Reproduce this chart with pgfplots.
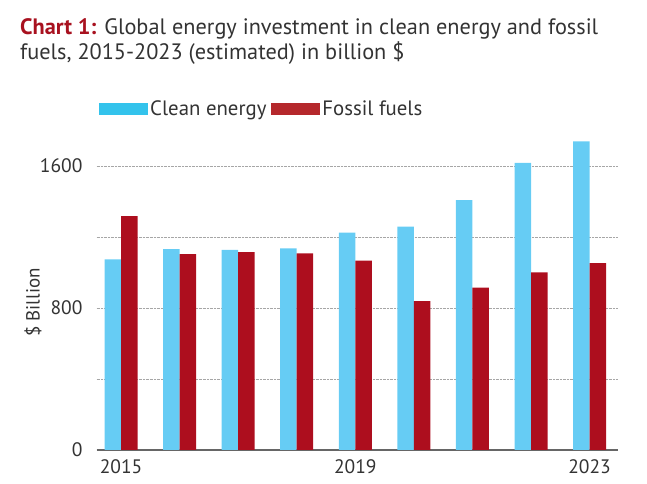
\documentclass[border=0pt]{standalone}
\usepackage{pgfplots}
\pgfplotsset{compat=1.18}
\usepackage{fontspec}
\setmainfont{PT Sans}
\definecolor{clean}{HTML}{66CCF4}
\definecolor{fossil}{HTML}{AD0E1E}
\definecolor{cleanleg}{HTML}{33C3EC}
\definecolor{fossilleg}{HTML}{B5282C}
\definecolor{titlered}{HTML}{A8111F}
\definecolor{txt}{HTML}{333333}
\definecolor{axgray}{HTML}{666666}
\begin{document}
\begin{tikzpicture}[x=1bp,y=1bp]
\path[use as bounding box] (0,0) rectangle (647,484);
\node[anchor=base west, inner sep=0, font=\fontsize{22.3bp}{25bp}\selectfont, text=txt] at (20,449.7) {\textcolor{titlered}{\bfseries Chart 1:} Global energy investment in clean energy and fossil};
\node[anchor=base west, inner sep=0, font=\fontsize{22.3bp}{25bp}\selectfont, text=txt] at (20,424) {fuels, 2015-2023 (estimated) in billion \$};
\node[rotate=90, inner sep=0, font=\fontsize{19bp}{20bp}\selectfont, text=txt] at (33,181.5) {\$ Billion};
\begin{axis}[
  at={(96.7bp,34bp)}, anchor=south west,
  scale only axis, width=521.6bp, height=316bp,
  xmin=2014.585, xmax=2023.49, ymin=0, ymax=1780,
  axis x line*=bottom, axis y line*=left,
  x axis line style={-, draw=axgray, line width=1.2bp},
  y axis line style={draw=none},
  major tick length=0pt,
  ymajorgrids, grid style={densely dotted, draw=gray!70, line width=0.6bp},
  ytick={0,400,800,1200,1600}, yticklabels={0,,800,,1600},
  xtick={2015,2019,2023}, xticklabels={2015,2019,2023},
  yticklabel style={inner sep=0pt, anchor=east, xshift=-14bp, text=txt, font=\fontsize{19.5bp}{20bp}\selectfont},
  xticklabel style={inner sep=0pt, anchor=north, yshift=-9bp, text=txt, font=\fontsize{19.5bp}{20bp}\selectfont},
  legend columns=2,
  legend style={at={(0.0045,1.079)}, anchor=west, draw=none, fill=none, inner sep=0pt,
    nodes={inner sep=2bp, text=txt, font=\fontsize{20.8bp}{22bp}\selectfont},
    /tikz/every even column/.append style={column sep=3bp}},
  legend cell align=left,
]
\addplot[ybar, bar width=16.5bp, bar shift=-8.25bp, fill=clean, draw=none,
  legend image code/.code={\fill[cleanleg] (0bp,-6.2bp) rectangle (49bp,6.2bp);}]
  coordinates {(2015,1074) (2016,1131) (2017,1127) (2018,1136) (2019,1224) (2020,1258) (2021,1408) (2022,1617) (2023,1739)};
\addlegendentry{Clean energy}
\addplot[ybar, bar width=16.5bp, bar shift=8.25bp, fill=fossil, draw=none,
  legend image code/.code={\fill[fossilleg] (0bp,-6.2bp) rectangle (49bp,6.2bp);}]
  coordinates {(2015,1318) (2016,1104) (2017,1114) (2018,1108) (2019,1067) (2020,839) (2021,915) (2022,1001) (2023,1052)};
\addlegendentry{Fossil fuels}
\end{axis}
\end{tikzpicture}
\end{document}
